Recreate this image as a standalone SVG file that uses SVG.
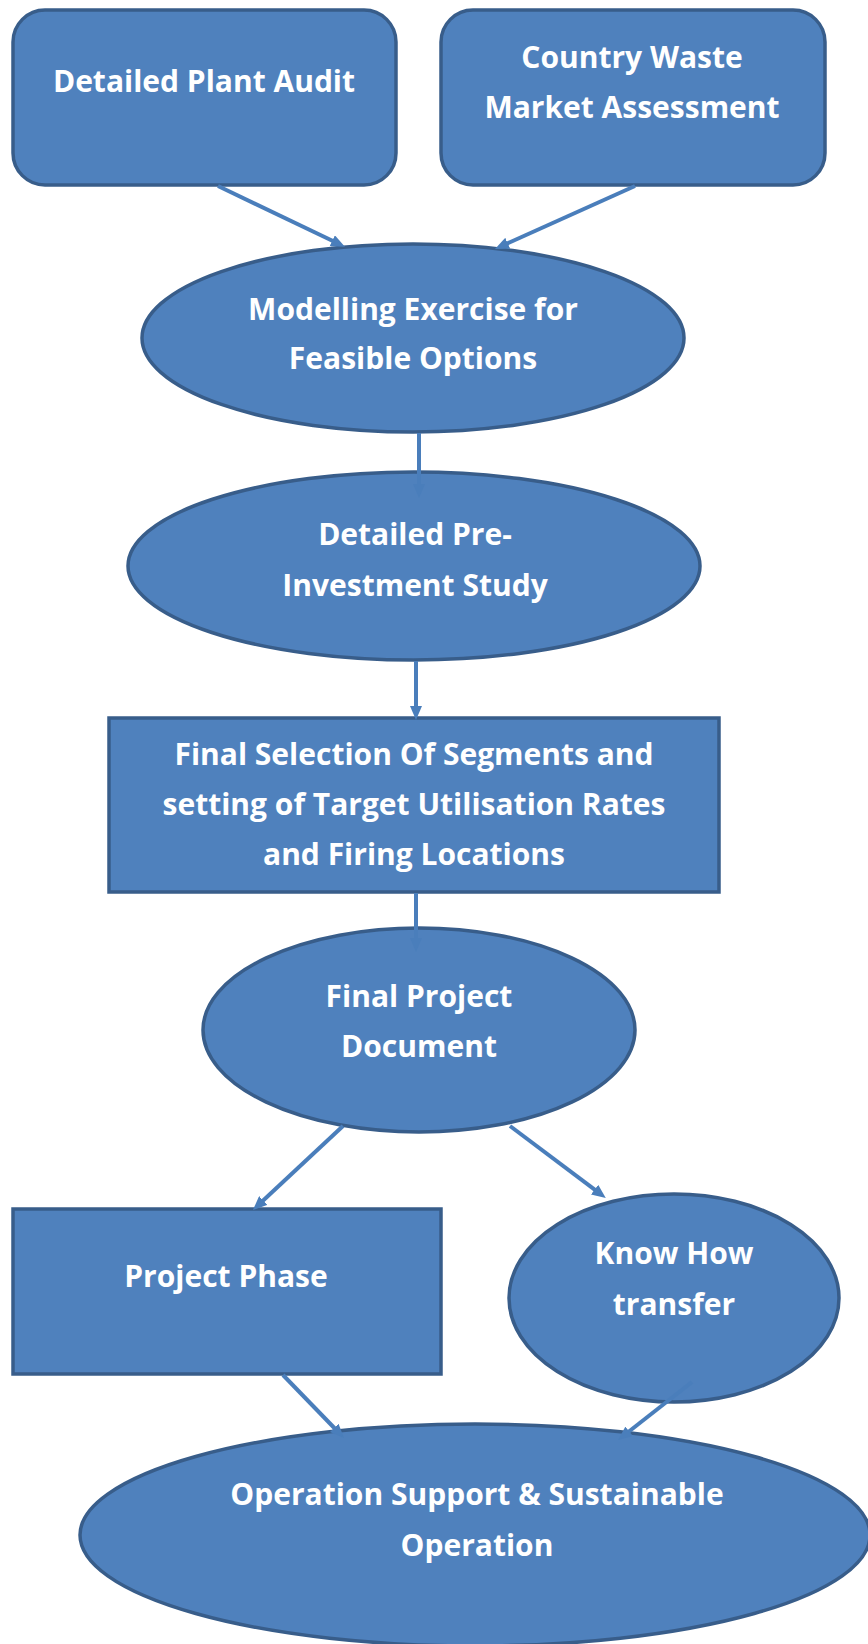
<svg xmlns="http://www.w3.org/2000/svg" width="868" height="1644" viewBox="0 0 868 1644">
<style>
.n{fill:#4F81BD;stroke:#385D8A;stroke-width:3.5}
.t{fill:#FFFFFF;font-family:"Open Sans","Liberation Sans",sans-serif;font-weight:700;font-size:30px;text-anchor:middle}
.c{fill:none;stroke:#4A7EBB;stroke-width:4}
</style>
<defs>
<marker id="ah" viewBox="0 0 14 12" refX="3" refY="6" markerWidth="14" markerHeight="12" orient="auto" markerUnits="userSpaceOnUse">
<path d="M0,0 L14,6 L0,12 Z" fill="#4A7EBB"/>
</marker>
</defs>
<rect width="868" height="1644" fill="#FFFFFF"/>
<g id="plant-audit">
<rect class="n" x="13" y="10" width="383" height="175" rx="32"/>
<text class="t" x="204" y="92">Detailed Plant Audit</text>
</g>
<g id="market-assessment">
<rect class="n" x="441" y="10" width="384" height="175" rx="32"/>
<text class="t" x="632" y="68">Country Waste</text>
<text class="t" x="632" y="118">Market Assessment</text>
</g>
<g id="modelling">
<ellipse class="n" cx="413" cy="338" rx="271" ry="94"/>
<text class="t" x="413" y="320">Modelling Exercise for</text>
<text class="t" x="413" y="369">Feasible Options</text>
</g>
<g id="pre-investment">
<ellipse class="n" cx="414" cy="566" rx="286" ry="94"/>
<text class="t" x="415" y="545">Detailed Pre-</text>
<text class="t" x="415" y="596">Investment Study</text>
</g>
<g id="final-selection">
<rect class="n" x="109" y="718" width="610" height="174"/>
<text class="t" x="414" y="765">Final Selection Of Segments and</text>
<text class="t" x="414" y="815">setting of Target Utilisation Rates</text>
<text class="t" x="414" y="865">and Firing Locations</text>
</g>
<g id="final-project">
<ellipse class="n" cx="419" cy="1030" rx="216" ry="102"/>
<text class="t" x="419" y="1007">Final Project</text>
<text class="t" x="419" y="1057">Document</text>
</g>
<g id="project-phase">
<rect class="n" x="13" y="1209" width="428" height="165"/>
<text class="t" x="226" y="1287">Project Phase</text>
</g>
<g id="know-how">
<ellipse class="n" cx="674" cy="1298" rx="165" ry="104"/>
<text class="t" x="674" y="1264">Know How</text>
<text class="t" x="674" y="1315">transfer</text>
</g>
<g id="operation">
<ellipse class="n" cx="475" cy="1535" rx="395" ry="111"/>
<text class="t" x="477" y="1505">Operation Support &amp; Sustainable</text>
<text class="t" x="477" y="1556">Operation</text>
</g>
<g id="connectors">
<line class="c" x1="218" y1="186" x2="335" y2="242" marker-end="url(#ah)"/>
<line class="c" x1="635" y1="186" x2="505" y2="244.5" marker-end="url(#ah)"/>
<line class="c" x1="419" y1="433" x2="419" y2="487" marker-end="url(#ah)"/>
<line class="c" x1="416" y1="661" x2="416" y2="709" marker-end="url(#ah)"/>
<line class="c" x1="416" y1="893" x2="416" y2="941" marker-end="url(#ah)"/>
<line class="c" x1="343" y1="1126" x2="261" y2="1202.5" marker-end="url(#ah)"/>
<line class="c" x1="510" y1="1126" x2="597" y2="1191.4" marker-end="url(#ah)"/>
<line class="c" x1="283" y1="1375" x2="336.3" y2="1430" marker-end="url(#ah)"/>
<line class="c" x1="692" y1="1382" x2="626.7" y2="1433.2" marker-end="url(#ah)"/>
</g>
</svg>
